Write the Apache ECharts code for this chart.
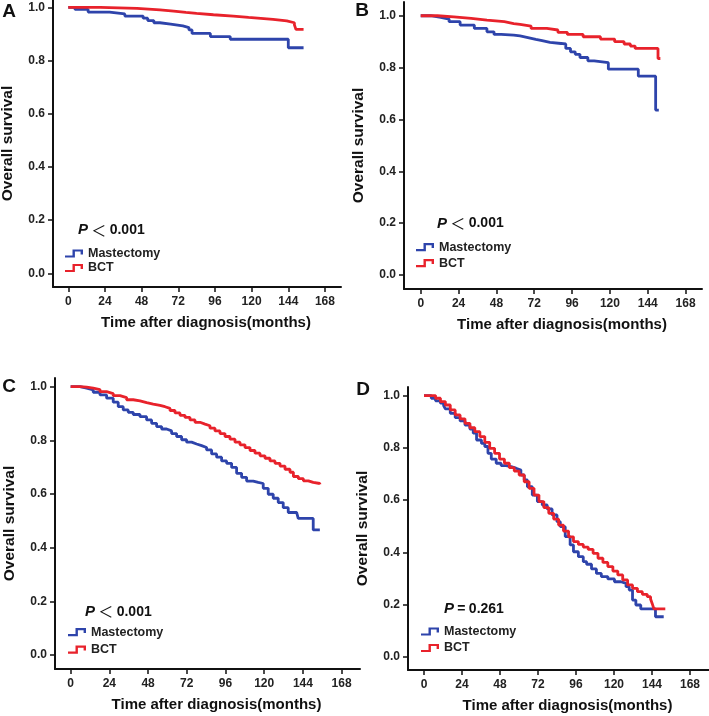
<!DOCTYPE html>
<html><head><meta charset="utf-8">
<script src="https://cdn.jsdelivr.net/npm/echarts@6/dist/echarts.min.js"></script>
<style>html,body{margin:0;padding:0;background:#fff}#c{width:709px;height:716px}</style>
</head><body><div id="c"></div>
<script>
// ---------- data ----------
const xTicks = [0, 24, 48, 72, 96, 120, 144, 168];
const yTicks = [0, 0.2, 0.4, 0.6, 0.8, 1.0];
const seriesNames = ['Mastectomy', 'BCT'];
const panelLetters = ['A', 'B', 'C', 'D'];
const pOperators = ['＜', '＜', '＜', '='];
const pNumbers = ['0.001', '0.001', '0.001', '0.261'];
const xTitle = 'Time after diagnosis(months)';
const yTitle = 'Overall survival';

const timeA_mast = [0, 4.4, 13, 27, 37, 49, 52, 56, 60, 67, 75, 79, 81, 93, 106, 144, 154];
const survA_mast = [1, 0.992, 0.982, 0.975, 0.967, 0.959, 0.950, 0.942, 0.937, 0.930, 0.924, 0.915, 0.902, 0.890, 0.880, 0.848, 0.848];
const timeA_bct = [0, 21, 45, 60, 69, 77, 84, 95, 108, 118, 134, 143, 148, 149, 154];
const survA_bct = [1, 0.996, 0.990, 0.986, 0.981, 0.977, 0.972, 0.967, 0.962, 0.955, 0.949, 0.942, 0.934, 0.917, 0.917];

const timeB_mast = [0, 6.3, 12.7, 18, 25, 34, 42, 46.5, 51, 59, 63, 68, 73, 77, 82, 89, 92, 95, 98, 101, 106, 110, 119, 138, 149, 151];
const survB_mast = [1, 0.994, 0.987, 0.977, 0.964, 0.951, 0.938, 0.928, 0.925, 0.922, 0.916, 0.909, 0.904, 0.897, 0.893, 0.891, 0.874, 0.861, 0.851, 0.839, 0.826, 0.819, 0.794, 0.767, 0.636, 0.636];
const timeB_bct = [0, 10.6, 21, 32, 42, 53, 59, 63, 70, 80, 87, 93, 103, 114, 123, 129, 133, 136, 150.5, 152];
const survB_bct = [1, 0.996, 0.990, 0.983, 0.977, 0.970, 0.967, 0.960, 0.951, 0.945, 0.936, 0.928, 0.919, 0.910, 0.900, 0.891, 0.883, 0.874, 0.835, 0.835];

const timeC_mast = [0, 5.8, 9.9, 14, 18.2, 22.3, 26.4, 29.5, 32.6, 35.7, 38.8, 43, 47.1, 50.2, 53.3, 56.4, 59.5, 62.6, 65.7, 68.8, 71.9, 75, 78.1, 81.2, 84.3, 87.4, 90.5, 93.6, 96.7, 99.8, 102.9, 106, 109.1, 113.2, 116.3, 119.4, 122.5, 125.6, 128.7, 131.8, 134.9, 140.1, 141.1, 150.4, 154.5];
const survC_mast = [1, 0.994, 0.988, 0.979, 0.969, 0.957, 0.942, 0.925, 0.913, 0.904, 0.896, 0.888, 0.876, 0.863, 0.851, 0.842, 0.835, 0.825, 0.814, 0.802, 0.793, 0.786, 0.780, 0.773, 0.764, 0.749, 0.737, 0.723, 0.714, 0.699, 0.677, 0.662, 0.648, 0.643, 0.639, 0.621, 0.599, 0.584, 0.568, 0.549, 0.531, 0.528, 0.509, 0.466, 0.466];
const timeC_bct = [0, 5.8, 9.9, 14, 18.2, 22.3, 26.4, 30.6, 34.7, 38.8, 43, 47.1, 51.2, 55.4, 58.5, 61.6, 64.7, 67.8, 70.9, 74, 77.1, 80.2, 83.3, 86.4, 89.5, 92.6, 95.7, 98.8, 101.9, 105, 108.1, 111.2, 114.3, 117.4, 120.5, 123.6, 126.7, 129.8, 132.9, 136, 138.1, 141.2, 144.3, 147.4, 150.4, 154.5];
const survC_bct = [1, 0.998, 0.994, 0.989, 0.981, 0.974, 0.966, 0.959, 0.951, 0.947, 0.940, 0.935, 0.930, 0.925, 0.919, 0.911, 0.902, 0.893, 0.885, 0.876, 0.867, 0.860, 0.854, 0.845, 0.835, 0.825, 0.814, 0.804, 0.793, 0.783, 0.773, 0.762, 0.752, 0.742, 0.733, 0.723, 0.714, 0.704, 0.692, 0.681, 0.665, 0.657, 0.649, 0.643, 0.639, 0.636];

const timeD_mast = [0, 4.6, 7.3, 10.4, 12.4, 13.5, 16.6, 19.7, 22.8, 25.9, 29, 31.1, 33.2, 36.3, 38.4, 40.4, 42.5, 45.6, 48.7, 51.9, 55, 58.1, 61.2, 63.3, 65.3, 68.4, 71.6, 74.7, 77.8, 80.9, 84, 86.1, 89.2, 92.3, 94.4, 97.5, 100.6, 102.7, 105.8, 108.9, 112, 116.1, 120.3, 124.4, 127.6, 129.6, 131.7, 133.8, 136.9, 146.2, 151.4];
const survD_mast = [1, 0.990, 0.980, 0.971, 0.962, 0.949, 0.932, 0.916, 0.903, 0.887, 0.872, 0.856, 0.830, 0.817, 0.805, 0.779, 0.757, 0.741, 0.732, 0.728, 0.722, 0.715, 0.696, 0.677, 0.651, 0.619, 0.594, 0.581, 0.566, 0.543, 0.517, 0.498, 0.460, 0.428, 0.402, 0.383, 0.364, 0.354, 0.336, 0.319, 0.307, 0.298, 0.287, 0.281, 0.268, 0.255, 0.217, 0.198, 0.183, 0.153, 0.153];
const timeD_bct = [0, 7.3, 10.4, 13.5, 16.6, 19.7, 22.8, 25.9, 29, 32.1, 35.3, 38.4, 41.5, 44.6, 47.7, 50.8, 53.9, 57, 60.1, 63.3, 66.4, 69.5, 72.6, 75.7, 78.8, 81.9, 85, 88.1, 91.3, 94.4, 97.5, 100.6, 103.7, 106.8, 109.9, 113, 116.1, 119.3, 122.4, 125.5, 128.6, 131.7, 134.8, 137.9, 141, 143.1, 144.1, 145.2, 152.4];
const survD_bct = [1, 0.990, 0.977, 0.964, 0.945, 0.926, 0.911, 0.894, 0.877, 0.862, 0.843, 0.821, 0.798, 0.779, 0.757, 0.741, 0.724, 0.711, 0.696, 0.670, 0.645, 0.619, 0.594, 0.571, 0.549, 0.527, 0.504, 0.481, 0.459, 0.441, 0.430, 0.420, 0.411, 0.396, 0.377, 0.361, 0.345, 0.328, 0.313, 0.294, 0.275, 0.262, 0.249, 0.239, 0.230, 0.221, 0.204, 0.183, 0.183];

const panelData = [
  [[timeA_mast, survA_mast], [timeA_bct, survA_bct]],
  [[timeB_mast, survB_mast], [timeB_bct, survB_bct]],
  [[timeC_mast, survC_mast], [timeC_bct, survC_bct]],
  [[timeD_mast, survD_mast], [timeD_bct, survD_bct]]
];

// ---------- layout / style ----------
const colors = ['#2e44ab', '#e8222b'];
const FONT = 'Liberation Sans, Arial, sans-serif';
const layout = [
  {left: 53,  top: 0,   width: 288, height: 287, xMin: -10,   xMax: 178.5, yMin: -0.0515, yMax: 1.0275,
   leg: [65, 247, 1.5],  letter: [9, 12],    p: [78, 230]},
  {left: 404, top: 2,   width: 298, height: 287, xMin: -10.6, xMax: 178.4, yMin: -0.054,  yMax: 1.053,
   leg: [416, 240.7, 3], letter: [362, 11],  p: [437, 223.5]},
  {left: 55,  top: 378, width: 305, height: 291, xMin: -9.7,  xMax: 179.4, yMin: -0.052,  yMax: 1.032,
   leg: [68, 625.7, 4.5], letter: [9, 387],  p: [85, 611.7]},
  {left: 408, top: 387, width: 301, height: 283, xMin: -10.1, xMax: 180,   yMin: -0.051,  yMax: 1.033,
   leg: [421, 625, 3.5], letter: [363, 390], p: [444, 609]}
];
const stepIcon = 'path://M0,6L7.5,6L7.5,0L18,0L18,5L15.6,5L15.6,2.2L9.9,2.2L9.9,8.2L0,8.2Z';

const grids = [], xAxes = [], yAxes = [], series = [], legends = [], graphics = [];
layout.forEach((L, i) => {
  grids.push({left: L.left, top: L.top, width: L.width, height: L.height, outerBoundsMode: 'none', containLabel: false});
  xAxes.push({
    gridIndex: i, type: 'value', min: L.xMin, max: L.xMax,
    axisLine: {onZero: false, lineStyle: {color: '#111', width: 2}},
    axisTick: {customValues: xTicks, length: 5, lineStyle: {color: '#111', width: 1.5}},
    axisLabel: {customValues: xTicks, margin: 9, color: '#222', fontWeight: 'bold', fontSize: 12, fontFamily: FONT},
    splitLine: {show: false},
    name: xTitle, nameLocation: 'middle', nameGap: 28,
    nameTextStyle: {fontWeight: 'bold', fontSize: 15, color: '#111', fontFamily: FONT, padding: [0, 0, 0, 18]}
  });
  yAxes.push({
    gridIndex: i, type: 'value', min: L.yMin, max: L.yMax,
    axisLine: {onZero: false, lineStyle: {color: '#111', width: 2}},
    axisTick: {customValues: yTicks, length: 5, lineStyle: {color: '#111', width: 1.5}},
    axisLabel: {customValues: yTicks, margin: 8, color: '#222', fontWeight: 'bold', fontSize: 12, fontFamily: FONT,
                formatter: v => v.toFixed(1)},
    splitLine: {show: false},
    name: yTitle, nameLocation: 'middle', nameGap: 37,
    nameTextStyle: {fontWeight: 'bold', fontSize: 15.5, color: '#111', fontFamily: FONT}
  });
  panelData[i].forEach((pair, k) => {
    series.push({
      type: 'line', name: seriesNames[k], xAxisIndex: i, yAxisIndex: i,
      step: 'end', showSymbol: false, symbol: 'none', silent: true,
      lineStyle: {color: colors[k], width: 2.8}, itemStyle: {color: colors[k]},
      z: k === 0 ? 2 : 3,
      data: pair[0].map((t, j) => [t, pair[1][j]])
    });
  });
  legends.push({
    orient: 'vertical', left: L.leg[0], top: L.leg[1], itemGap: L.leg[2], padding: 0,
    itemWidth: 18, itemHeight: 8.2, itemTextGap: 6, icon: stepIcon, selectedMode: false,
    itemStyle: {borderWidth: 0},
    data: seriesNames,
    textStyle: {fontWeight: 'bold', fontSize: 12.5, color: '#222', fontFamily: FONT}
  });
  graphics.push({
    type: 'text', x: L.letter[0], y: L.letter[1],
    style: {text: panelLetters[i], font: 'bold 19px ' + FONT, fill: '#111', align: 'center', verticalAlign: 'middle'}
  });
  const isLt = pOperators[i] === '＜';
  graphics.push({
    type: 'text', x: L.p[0], y: L.p[1],
    style: {
      text: '{i|P} {o|' + pOperators[i] + '} {n|' + pNumbers[i] + '}',
      verticalAlign: 'middle', align: 'left',
      rich: {
        i: {font: 'italic bold 15px ' + FONT, fill: '#111'},
        o: {font: isLt ? 'normal 15px Noto Sans CJK SC' : 'bold 14px ' + FONT, fill: '#111'},
        n: {font: 'bold 14px ' + FONT, fill: '#111'}
      }
    }
  });
});

const chart = echarts.init(document.getElementById('c'), null, {renderer: 'canvas'});
chart.setOption({
  animation: false,
  backgroundColor: '#fff',
  grid: grids, xAxis: xAxes, yAxis: yAxes, series: series, legend: legends,
  graphic: graphics
});
</script>
</body></html>
